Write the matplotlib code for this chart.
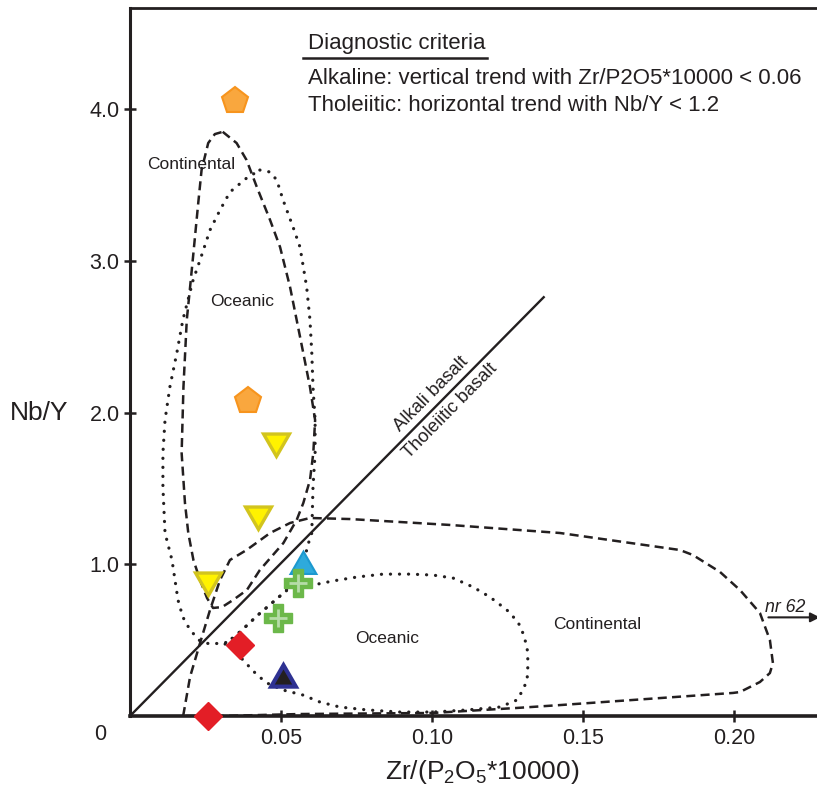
import numpy as np
import matplotlib
matplotlib.use('Agg')
import matplotlib.pyplot as plt
from matplotlib.lines import Line2D

plt.rcParams['font.family'] = ['Liberation Sans', 'DejaVu Sans']
plt.rcParams['mathtext.fontset'] = 'custom'
plt.rcParams['mathtext.rm'] = 'Liberation Sans'
plt.rcParams['lines.scale_dashes'] = False

ink = '#231f20'

# field outlines (x = Zr/(P2O5*10000), y = Nb/Y)
cont_v_x = [0.0307, 0.0353, 0.0386, 0.0420, 0.0464, 0.0497, 0.0530, 0.0552, 0.0574, 0.0596,
            0.0613, 0.0607, 0.0596, 0.0574, 0.0552, 0.0508, 0.0430, 0.0387, 0.0341, 0.0305,
            0.0275, 0.0255, 0.0232, 0.0210, 0.0193, 0.0182, 0.0171, 0.0177, 0.0188, 0.0199,
            0.0210, 0.0226, 0.0237, 0.0259, 0.0281]
cont_v_y = [3.850, 3.776, 3.664, 3.486, 3.268, 3.090, 2.827, 2.609, 2.390, 2.168,
            1.950, 1.733, 1.555, 1.404, 1.292, 1.140, 0.962, 0.830, 0.764, 0.718,
            0.712, 0.778, 0.896, 1.028, 1.206, 1.404, 1.733, 2.168, 2.610, 2.827,
            3.051, 3.381, 3.598, 3.776, 3.835]

ocean_v_x = [0.0430, 0.0464, 0.0486, 0.0507, 0.0540, 0.0563, 0.0585, 0.0596, 0.0602, 0.0606,
             0.0613, 0.0613, 0.0606, 0.0602, 0.0589, 0.0573, 0.0553, 0.0497, 0.0424, 0.0371,
             0.0331, 0.0305, 0.0265, 0.0232, 0.0199, 0.0175, 0.0159, 0.0149, 0.0139, 0.0116,
             0.0109, 0.0109, 0.0116, 0.0132, 0.0155, 0.0175, 0.0209, 0.0232, 0.0265, 0.0298,
             0.0331, 0.0386]
ocean_v_y = [3.598, 3.585, 3.532, 3.400, 3.222, 3.090, 2.827, 2.610, 2.392, 2.168,
             1.951, 1.733, 1.509, 1.206, 1.127, 0.995, 0.896, 0.791, 0.666, 0.567,
             0.488, 0.481, 0.474, 0.494, 0.567, 0.652, 0.764, 0.896, 1.028, 1.206,
             1.509, 1.733, 1.951, 2.168, 2.392, 2.610, 2.873, 3.005, 3.203, 3.334,
             3.453, 3.545]

cont_h_x = [0.0176, 0.0199, 0.0232, 0.0265, 0.0298, 0.0331, 0.0386, 0.0464, 0.0530, 0.0596,
            0.0728, 0.1060, 0.1424, 0.1821, 0.1864, 0.1954, 0.2020, 0.2086, 0.2119, 0.2129,
            0.2119, 0.2086, 0.2020, 0.1997, 0.1424, 0.1281, 0.1003, 0.0563, 0.0298]
cont_h_y = [0.000, 0.259, 0.481, 0.699, 0.896, 1.028, 1.094, 1.206, 1.272, 1.305,
            1.298, 1.259, 1.206, 1.094, 1.061, 0.949, 0.830, 0.679, 0.501, 0.349,
            0.283, 0.224, 0.158, 0.152, 0.072, 0.053, 0.020, 0.013, 0.000]

ocean_h_x = [0.0315, 0.0371, 0.0424, 0.0497, 0.0553, 0.0606, 0.0672, 0.0752, 0.0838, 0.0927,
             0.1003, 0.1070, 0.1136, 0.1192, 0.1248, 0.1285, 0.1301, 0.1315, 0.1318, 0.1315,
             0.1301, 0.1281, 0.1225, 0.1116, 0.1003, 0.0894, 0.0785, 0.0695, 0.0629, 0.0573,
             0.0507, 0.0454, 0.0421, 0.0374, 0.0348]
ocean_h_y = [0.474, 0.567, 0.666, 0.791, 0.883, 0.863, 0.890, 0.916, 0.935, 0.935,
             0.929, 0.909, 0.850, 0.784, 0.699, 0.619, 0.547, 0.455, 0.349, 0.237,
             0.171, 0.105, 0.059, 0.040, 0.026, 0.026, 0.040, 0.059, 0.092, 0.138,
             0.171, 0.217, 0.270, 0.369, 0.435]

divider_x = [0.0, 0.137]
divider_y = [0.0, 2.76]

# samples
pent_x = [0.0348, 0.0392]
pent_y = [4.05, 2.076]
tri_dn_x = [0.0483, 0.0424, 0.0257]
tri_dn_y = [1.812, 1.328, 0.896]
cyan_x = [0.0573]
cyan_y = [0.988]
cross_x = [0.0556, 0.0490]
cross_y = [0.876, 0.646]
diam_x = [0.0363, 0.0257]
diam_y = [0.465, 0.0]
navy_x = [0.0507]
navy_y = [0.244]

W, H = 817, 789
fig = plt.figure(figsize=(W / 100, H / 100), dpi=100)
ax = fig.add_axes([130 / W, 73 / H, 687 / W, 708 / H])
ax.set_xlim(0, 0.2275)
ax.set_ylim(0, 4.666)

dash = (0, (6.5, 3.8))
dots = (0, (0.1, 6.4))


def closed(x, y):
    return np.append(x, x[0]), np.append(y, y[0])


ax.plot(*closed(cont_v_x, cont_v_y), color=ink, lw=1.8, ls=dash)
ax.plot(*closed(cont_h_x, cont_h_y), color=ink, lw=1.8, ls=dash)
ax.plot(*closed(ocean_v_x, ocean_v_y), color=ink, lw=2.3, ls=dots, dash_capstyle='round')
ax.plot(*closed(ocean_h_x, ocean_h_y), color=ink, lw=2.3, ls=dots, dash_capstyle='round')
ax.plot(divider_x, divider_y, color=ink, lw=1.7)

# markers
kw = dict(ls='none', clip_on=False, zorder=5)
ax.plot(pent_x, pent_y, marker='p', ms=20, mfc='#f9a73e', mec='#f7941d', mew=1.5, **kw)
ax.plot(tri_dn_x, tri_dn_y, marker=(3, 0, 180), ms=21.5, mfc='#fff200', mec='#d2c41e', mew=2.4, **kw)
ax.plot(cyan_x, cyan_y, marker=(3, 0, 0), ms=21.5, mfc='#2eaadc', mec='#1c99cf', mew=1.5, **kw)
ax.plot(cross_x, cross_y, marker='P', ms=20.5, mfc='#6cb84a', mec='#6cb84a', mew=1, **kw)
ax.plot(cross_x, cross_y, marker='+', ms=13, mec='#b5dca8', mew=2, **kw)
ax.plot(diam_x, diam_y, marker='D', ms=14.5, mfc='#e31e26', mec='#e31e26', mew=1, **kw)
ax.plot(navy_x, navy_y, marker=(3, 0, 0), ms=20.5, mfc=ink, mec='#2e3192', mew=3, **kw)

# field names
lab = dict(fontsize=12.5, color=ink, ha='center', va='center')
ax.text(0.0204, 3.636, 'Continental', **lab)
ax.text(0.0370, 2.73, 'Oceanic', **lab)
ax.text(0.0851, 0.514, 'Oceanic', **lab)
ax.text(0.1546, 0.600, 'Continental', **lab)

p0 = ax.transData.transform((divider_x[0], divider_y[0]))
p1 = ax.transData.transform((divider_x[1], divider_y[1]))
ang = np.degrees(np.arctan2(p1[1] - p0[1], p1[0] - p0[0]))
lab13 = dict(lab, fontsize=13.2)
ax.text(0.0996, 2.125, 'Alkali basalt', rotation=ang, rotation_mode='anchor', **lab13)
ax.text(0.1062, 2.012, 'Tholeiitic basalt', rotation=ang, rotation_mode='anchor', **lab13)

ax.text(0.2169, 0.718, 'nr 62', fontsize=12.8, style='italic', color=ink, ha='center', va='center')
ax.annotate('', xy=(0.2285, 0.65), xytext=(0.2114, 0.65), annotation_clip=False,
            arrowprops=dict(arrowstyle='-|>', color=ink, lw=1.5, mutation_scale=14,
                            shrinkA=0, shrinkB=0))

# axes styling
ax.spines['right'].set_visible(False)
ax.spines['left'].set_linewidth(2.2)
ax.spines['bottom'].set_linewidth(2.6)
ax.spines['top'].set_linewidth(2.0)
for s in ax.spines.values():
    s.set_color(ink)
ax.set_xticks([0.05, 0.10, 0.15, 0.20])
ax.set_xticklabels(['0.05', '0.10', '0.15', '0.20'])
ax.set_yticks([1, 2, 3, 4])
ax.set_yticklabels(['1.0', '2.0', '3.0', '4.0'])
ax.tick_params(axis='x', direction='inout', length=9, width=1.8, pad=4, labelsize=15.5,
               color=ink, labelcolor=ink)
ax.tick_params(axis='y', direction='inout', length=9, width=1.8, pad=3, labelsize=15.5,
               color=ink, labelcolor=ink)

fig.text(100 / W, 1 - 735 / H, '0', fontsize=15.5, color=ink, ha='center', va='center')
fig.text(39 / W, 1 - 413 / H, 'Nb/Y', fontsize=19, color=ink, ha='center', va='center')
fig.text(482 / W, 1 - 772 / H, 'Zr/(P$_2$O$_5$*10000)', fontsize=19, color=ink,
         ha='center', va='center')

# diagnostic criteria box
fig.text(308 / W, 1 - 49 / H, 'Diagnostic criteria', fontsize=16, color=ink, va='baseline')
fig.add_artist(Line2D([303 / W, 487 / W], [1 - 57.5 / H, 1 - 57.5 / H], color=ink, lw=1.8))
fig.text(308 / W, 1 - 84 / H, 'Alkaline: vertical trend with Zr/P2O5*10000 < 0.06',
         fontsize=16, color=ink, va='baseline')
fig.text(308 / W, 1 - 111 / H, 'Tholeiitic: horizontal trend with Nb/Y < 1.2',
         fontsize=16, color=ink, va='baseline')

fig.savefig('out.png', dpi=100)
